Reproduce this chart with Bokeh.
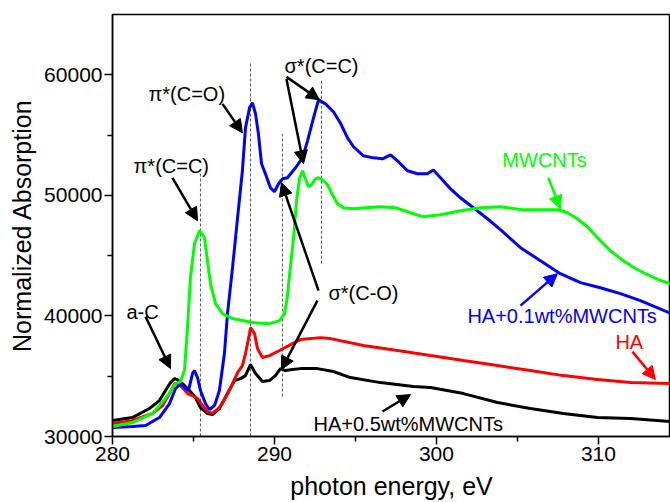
from bokeh.plotting import figure
from bokeh.models import Label, Arrow, NormalHead, FixedTicker, Range1d
from bokeh.embed import file_html
from bokeh.resources import INLINE

# ---------------- data ----------------
ha05_x = [280.00, 281.23, 282.28, 282.90, 283.27, 283.58, 283.83, 284.01, 284.32, 284.75, 285.12,
          285.43, 285.86, 286.17, 286.60, 287.10, 287.53, 287.90, 288.21, 288.52, 288.83, 289.26,
          289.69, 290.06, 290.37, 290.68, 291.11, 291.60, 292.65, 293.64, 294.69, 296.54, 298.58,
          299.63, 301.67, 303.77, 305.80, 307.84, 309.94, 311.98, 314.44]
ha05_y = [31330, 31570, 32320, 32980, 33810, 34470, 34800, 34720, 34390, 33810, 33230,
          32400, 31910, 31820, 32320, 33560, 34640, 34800, 35050, 35970, 35220, 34560,
          34640, 35050, 35630, 35470, 35550, 35630, 35630, 35390, 34890, 34470, 34140,
          34060, 33560, 32820, 32320, 31910, 31570, 31490, 31240]

ha_x = [280.00, 281.23, 282.47, 283.09, 283.52, 283.83, 284.01, 284.32, 284.63, 284.94, 285.25,
        285.56, 285.86, 286.17, 286.60, 286.98, 287.41, 287.72, 288.02, 288.21, 288.46, 288.52,
        288.77, 288.95, 289.26, 289.69, 290.31, 291.11, 291.60, 292.84, 293.46, 295.49, 297.59,
        299.63, 301.67, 303.77, 305.80, 307.84, 309.94, 311.98, 314.44]
ha_y = [31080, 31330, 31910, 32570, 33560, 34390, 34390, 34060, 33560, 33400, 33150,
        32570, 32070, 31910, 32400, 33230, 34390, 35300, 35880, 36880, 38530, 39030,
        38530, 37290, 36550, 36710, 37130, 37700, 38040, 38200, 38120, 37540, 37130,
        36710, 36300, 35880, 35470, 35050, 34720, 34470, 34390]

ha01_x = [280.00, 281.23, 282.04, 282.90, 283.52, 283.89, 284.20, 284.44, 284.69, 284.94, 285.06,
          285.25, 285.43, 285.74, 285.99, 286.30, 286.60, 286.91, 287.10, 287.41, 287.72, 288.02,
          288.21, 288.46, 288.64, 288.83, 289.01, 289.20, 289.44, 289.75, 290.00, 290.25, 290.49,
          290.80, 291.30, 291.73, 292.04, 292.41, 292.72, 293.15, 293.64, 294.07, 294.51, 294.88,
          295.49, 296.11, 296.67, 297.16, 297.59, 298.21, 298.83, 299.44, 299.81, 300.25, 300.86,
          301.48, 302.28, 303.15, 303.95, 305.19, 306.42, 307.65, 308.89, 310.12, 311.36, 312.59,
          314.44]
ha01_y = [30750, 30830, 30910, 31570, 32730, 33980, 34390, 34060, 33810, 35220, 35470,
          34890, 33810, 32730, 32240, 32570, 33810, 36880, 40190, 44000, 48140, 52040,
          55600, 57260, 57670, 56760, 55100, 52620, 51790, 50630, 50300, 50960, 51370,
          51460, 52290, 53110, 54520, 56430, 57920, 57590, 56930, 56000, 54770, 54030,
          53280, 53110, 53030, 53350, 52870, 52040, 51790, 51790, 52100, 51460, 50550,
          49800, 48970, 48060, 47150, 45660, 44580, 43500, 42760, 42340, 41850, 41270,
          40230]

mwcnt_x = [280.00, 281.23, 282.47, 283.27, 283.89, 284.20, 284.44, 284.63, 284.81, 285.06, 285.37,
           285.68, 285.86, 286.05, 286.36, 286.79, 287.41, 288.64, 289.69, 290.31, 290.62, 290.80,
           290.99, 291.17, 291.36, 291.54, 291.73, 291.91, 292.10, 292.28, 292.53, 292.72, 292.96,
           293.27, 293.58, 293.89, 294.26, 294.88, 295.62, 296.54, 297.47, 298.40, 299.14, 300.25,
           301.48, 302.72, 303.95, 305.31, 306.42, 307.53, 308.09, 308.70, 309.32, 309.94, 310.74,
           311.36, 312.10, 312.90, 313.70, 314.44]
mwcnt_y = [30830, 31160, 31910, 33150, 34390, 34560, 35470, 39030, 43170, 45990, 47070,
           46490, 44580, 42680, 41020, 40190, 39780, 39450, 39360, 39610, 40190, 41680,
           44170, 46400, 49550, 51370, 52040, 51370, 50710, 50880, 51370, 51460, 51290,
           50880, 50050, 49300, 48970, 48890, 48970, 49060, 48970, 48560, 48230, 48390,
           48720, 48970, 49060, 48810, 48810, 48810, 48560, 48060, 47400, 46490, 45410,
           44750, 44080, 43500, 43010, 42680]

# peak marker lines (energy, top, bottom)
peak_x = [285.43, 288.52, 290.49, 292.90]
peak_top = [51790, 60990, 55100, 59500]
peak_bottom = [30000, 30000, 33310, 44330]

x_ticks = [280, 290, 300, 310]
x_minor = [285, 295, 305]
y_ticks = [30000, 40000, 50000, 60000]
y_minor = [35000, 45000, 55000]

FONT = "Liberation Sans"
DY = 580  # baseline correction for labels (data units, ~7px)

p = figure(width=670, height=502, x_range=Range1d(280, 314.45), y_range=Range1d(30000, 65000),
           output_backend="svg", toolbar_location=None,
           min_border_left=112, min_border_right=0, min_border_top=14, min_border_bottom=66)
p.grid.visible = False
p.outline_line_color = "black"
p.outline_line_width = 1.5
p.background_fill_color = "white"
p.border_fill_color = "white"

for ax in (p.xaxis[0], p.yaxis[0]):
    ax.axis_line_width = 1.5
    ax.axis_line_color = "black"
    ax.major_tick_line_width = 1.5
    ax.minor_tick_line_width = 1.5
    ax.major_tick_in = 0
    ax.major_tick_out = 8
    ax.minor_tick_in = 0
    ax.minor_tick_out = 5
    ax.major_label_text_font = FONT
    ax.major_label_text_font_size = "21px"
    ax.major_label_text_color = "black"
    ax.major_label_standoff = 2
    ax.axis_label_text_font = FONT
    ax.axis_label_text_font_size = "25px"
    ax.axis_label_text_font_style = "normal"
    ax.axis_label_text_color = "black"

p.xaxis.ticker = FixedTicker(ticks=x_ticks, minor_ticks=x_minor)
p.yaxis.ticker = FixedTicker(ticks=y_ticks, minor_ticks=y_minor)
p.yaxis.formatter.use_scientific = False

p.yaxis.axis_label = "Normalized Absorption"
p.yaxis.axis_label_standoff = 5
p.xaxis.axis_label = "photon energy, eV"
p.xaxis.axis_label_standoff = 8

# dashed peak lines
p.segment(x0=peak_x, y0=peak_bottom, x1=peak_x, y1=peak_top, line_color="#555555",
          line_width=1, line_dash="3 2")

# curves
p.line(ha05_x, ha05_y, line_color="black", line_width=3)
p.line(ha_x, ha_y, line_color="#ff0000", line_width=3)
p.line(ha01_x, ha01_y, line_color="#0000ff", line_width=3)
p.line(mwcnt_x, mwcnt_y, line_color="#00ff00", line_width=3)

# annotation texts
notes = [
    (282.22, 57838, "π*(C=O)", "black"),
    (281.30, 51872, "π*(C=C)", "black"),
    (290.62, 60157, "σ*(C=C)", "black"),
    (293.33, 41350, "σ*(C-O)", "black"),
    (280.86, 39776, "a-C", "black"),
    (304.07, 52370, "MWCNTs", "#00ff00"),
    (301.91, 39445, "HA+0.1wt%MWCNTs", "#0000ff"),
    (311.05, 37291, "HA", "#ff0000"),
    (292.41, 30497, "HA+0.5wt%MWCNTs", "black"),
]
for x, y, t, c in notes:
    p.add_layout(Label(x=x, y=y + DY, text=t, text_font=FONT, text_font_size="20px",
                       text_color=c, text_baseline="alphabetic", text_align="left"))

arrows = [
    (282.04, 39942, 283.58, 35634, "black"),
    (283.70, 51458, 285.25, 47896, "black"),
    (286.79, 57589, 288.02, 55186, "black"),
    (290.74, 59826, 292.78, 57920, "black"),
    (290.74, 59660, 291.79, 52618, "black"),
    (292.72, 42096, 290.43, 51044, "black"),
    (292.65, 41268, 290.43, 35551, "black"),
    (306.91, 51458, 307.65, 48890, "#00ff00"),
    (305.19, 40853, 307.47, 43505, "#0000ff"),
    (312.10, 37042, 313.52, 34722, "#ff0000"),
    (296.67, 32071, 298.40, 33480, "black"),
]
for x0, y0, x1, y1, c in arrows:
    p.add_layout(Arrow(x_start=x0, y_start=y0, x_end=x1, y_end=y1, line_color=c, line_width=2.5,
                       end=NormalHead(size=13, fill_color=c, line_color=c, line_width=1)))

open("out.html", "w").write(file_html(p, INLINE))
